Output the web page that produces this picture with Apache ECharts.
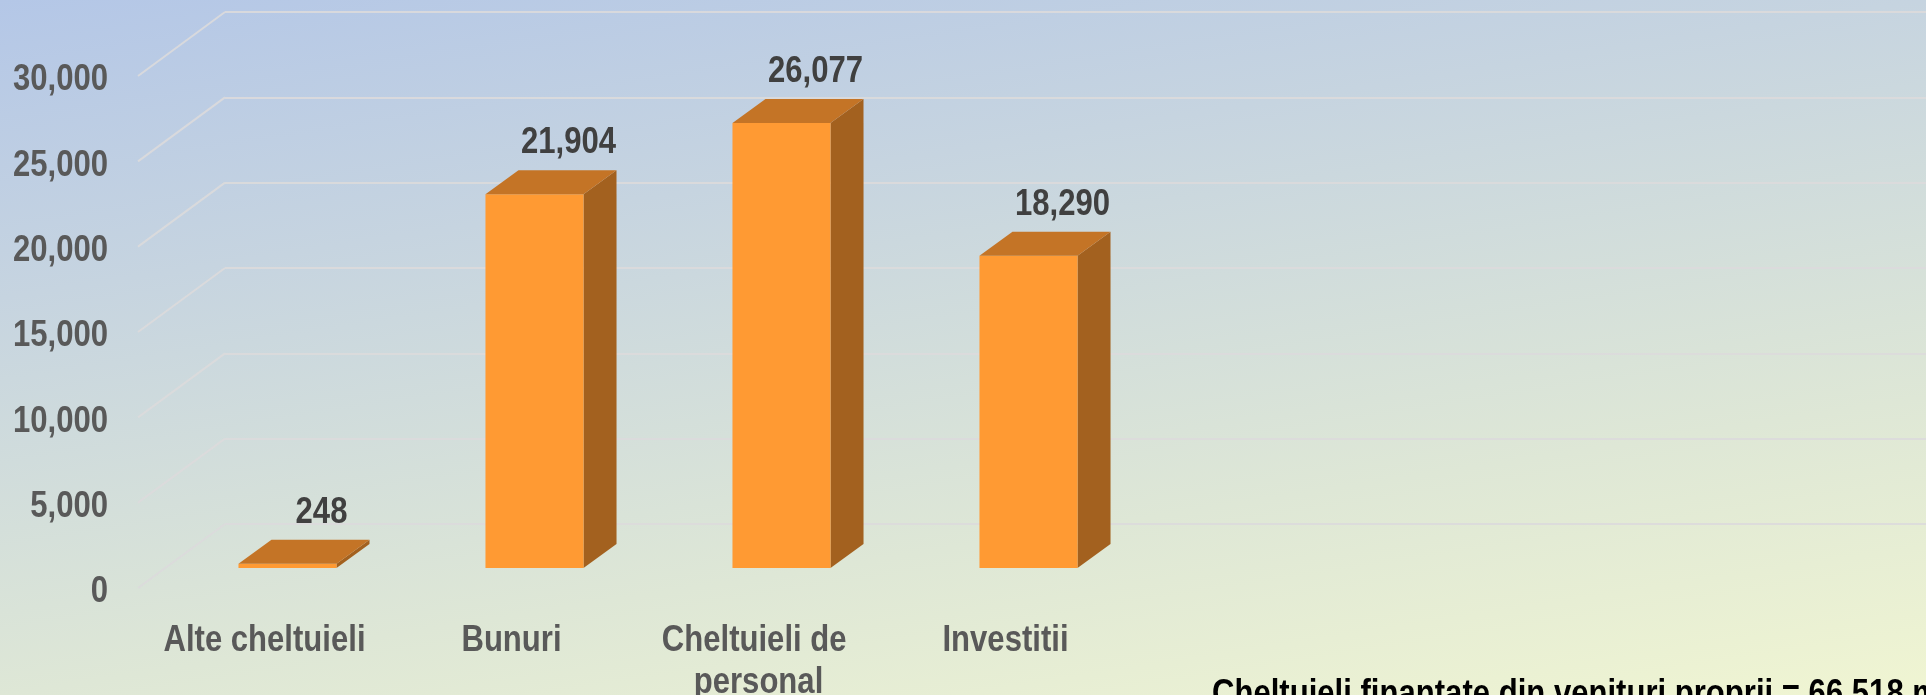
<!DOCTYPE html>
<html>
<head>
<meta charset="utf-8">
<script src="https://cdn.jsdelivr.net/npm/echarts@6/dist/echarts.min.js"></script>
<style>
  html, body { margin: 0; padding: 0; }
  #chart { width: 1926px; height: 695px; }
</style>
</head>
<body>
<div id="chart"></div>
<script>
// date grafic
const categories = ['Alte cheltuieli', 'Bunuri', 'Cheltuieli de personal', 'Investitii'];
const values = [248, 21904, 26077, 18290];
const yTicks = [0, 5000, 10000, 15000, 20000, 25000, 30000];
const footNote = 'Cheltuieli finantate din venituri proprii = 66,518 mii lei';

// fontul e ingust (tip Arial Narrow) -> Liberation Sans bold comprimat pe orizontala
const FONT = 'bold 37px "Liberation Sans", Arial, sans-serif';
const NARROW = 0.84;
const DX = 33, DY = 24;           // adancimea barei
const WALL_DX = 87, WALL_DY = 64; // adancimea podelei

const chart = echarts.init(document.getElementById('chart'));

function fmt(v) {
  return v.toLocaleString('en-US');
}

function narrowText(x, y, text, fill, align, vAlign, extra) {
  return {
    type: 'text', x: x, y: y, scaleX: NARROW,
    style: Object.assign({ text: text, x: 0, y: 0, align: align, verticalAlign: vAlign, font: FONT, fill: fill }, extra || {})
  };
}

function renderBar(params, api) {
  const v = api.value(1);
  const base = api.coord([api.value(0), 0]);
  const top = api.coord([api.value(0), v]);
  const w = api.size([1, 0])[0] * 0.397;
  const x0 = base[0] - w / 2, x1 = base[0] + w / 2;
  const yb = base[1], yt = top[1];
  return {
    type: 'group',
    children: [
      { type: 'polygon', shape: { points: [[x1, yt], [x1 + DX, yt - DY], [x1 + DX, yb - DY], [x1, yb]] },
        style: { fill: '#a3611f' } },
      { type: 'rect', shape: { x: x0, y: yt, width: w, height: yb - yt },
        style: { fill: '#ff9a33' } },
      { type: 'polygon', shape: { points: [[x0, yt], [x1, yt], [x1 + DX, yt - DY], [x0 + DX, yt - DY]] },
        style: { fill: '#c47426' } },
      narrowText(base[0] + DX + 1, yt - DY - 27, fmt(v), '#404040', 'center', 'middle')
    ]
  };
}

function renderDiag(params, api) {
  const p = api.coord([0, api.value(1)]);
  return {
    type: 'line',
    shape: { x1: p[0] - WALL_DX, y1: p[1] + WALL_DY, x2: p[0], y2: p[1] },
    style: { stroke: 'rgba(220,218,220,0.9)', lineWidth: 2 }
  };
}

function renderYLabel(params, api) {
  const p = api.coord([0, api.value(1)]);
  return narrowText(params.coordSys.x - 33, p[1] + 4, fmt(api.value(1)), '#595959', 'right', 'middle');
}

function renderXLabel(params, api) {
  const p = api.coord([api.value(0), 0]);
  return narrowText(p[0], p[1] + 32, categories[params.dataIndex], '#595959', 'center', 'top',
    { width: 240 / NARROW, overflow: 'break', lineHeight: 42 });
}

const option = {
  backgroundColor: {
    type: 'linear', x: 0, y: 0, x2: 150, y2: 970, global: true,
    colorStops: [
      { offset: 0, color: '#b4c7e7' },
      { offset: 0.3, color: '#c6d4e0' },
      { offset: 0.7, color: '#dee7d6' },
      { offset: 1, color: '#f0f5d2' }
    ]
  },
  animation: false,
  graphic: [
    Object.assign(narrowText(1212, 676, footNote, '#000', 'left', 'top'), { silent: true })
  ],
  grid: [
    { left: 225, top: 12, height: 512, right: -20 },   // perete spate
    { left: 164, top: 56, height: 512, width: 988 },   // fata barelor
    { left: 141, top: 76, height: 512, width: 988 }    // fata podelei
  ],
  xAxis: [
    { gridIndex: 0, type: 'value', min: 0, max: 1, show: false },
    { gridIndex: 1, type: 'category', data: categories, show: false },
    { gridIndex: 2, type: 'category', data: categories, show: false }
  ],
  yAxis: [
    { gridIndex: 0, type: 'value', min: 0, max: 30000, interval: 5000,
      axisLine: { show: false }, axisTick: { show: false }, axisLabel: { show: false },
      splitLine: { lineStyle: { color: 'rgba(220,218,220,0.9)', width: 2 } } },
    { gridIndex: 1, type: 'value', min: 0, max: 30000, interval: 5000, show: false },
    { gridIndex: 2, type: 'value', min: 0, max: 30000, interval: 5000, show: false }
  ],
  series: [
    { type: 'custom', xAxisIndex: 0, yAxisIndex: 0, renderItem: renderDiag, clip: false,
      data: yTicks.map(v => [0, v]), silent: true },
    { type: 'custom', xAxisIndex: 2, yAxisIndex: 2, renderItem: renderYLabel, clip: false,
      data: yTicks.map(v => [0, v]), silent: true },
    { type: 'custom', xAxisIndex: 2, yAxisIndex: 2, renderItem: renderXLabel, clip: false,
      data: categories.map((c, i) => [i, 0]), silent: true },
    { type: 'custom', xAxisIndex: 1, yAxisIndex: 1, renderItem: renderBar, clip: false,
      data: values.map((v, i) => [i, v]) }
  ]
};

chart.setOption(option);
</script>
</body>
</html>
